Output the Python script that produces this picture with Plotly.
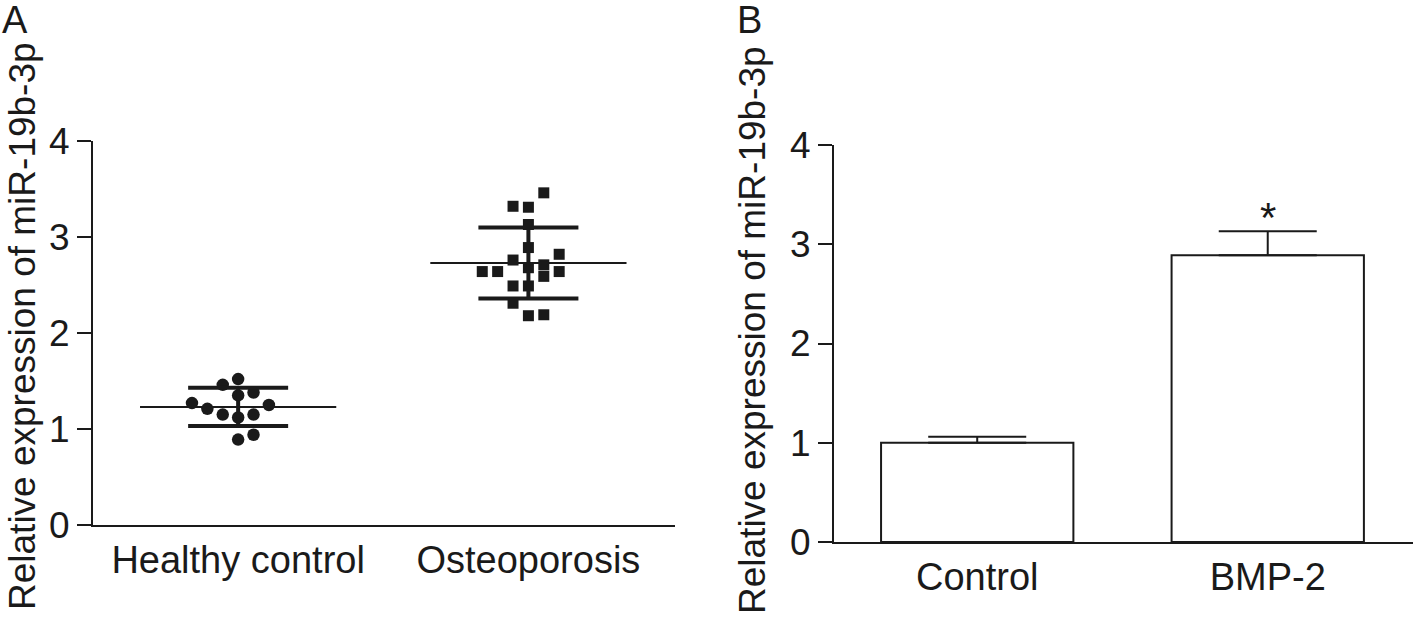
import plotly.graph_objects as go

# ---------------- Data ----------------
# Panel A: scatter dot plot
groups_a = ["Healthy control", "Osteoporosis"]
healthy_vals = [1.46, 1.52, 1.35, 1.38, 1.27, 1.21, 1.15, 1.12, 1.15, 1.25, 0.89, 0.94]
healthy_slot = [-1, 0, 0, 1, -3, -2, -1, 0, 1, 2, 0, 1]
osteo_vals = [3.46, 3.32, 3.31, 3.13, 2.89, 2.82, 2.76, 2.71, 2.68, 2.64, 2.64, 2.59,
              2.64, 2.49, 2.49, 2.31, 2.18, 2.19]
osteo_slot = [1, -1, 0, 0, 0, 2, -1, 1, 0, -3, -2, 1, 2, -1, 0, -1, 0, 1]
means_a = [1.23, 2.73]
sd_a = [0.20, 0.37]

# Panel B: bar chart
groups_b = ["Control", "BMP-2"]
bar_vals = [1.00, 2.89]
bar_err = [0.06, 0.24]
sig_marks = ["", "*"]

y_ticks = [0, 1, 2, 3, 4]
y_title = "Relative expression of miR-19b-3p"

# ---------------- Style ----------------
FONT = "Liberation Sans, Arial, sans-serif"
INK = "#1a1a1a"
W, H = 1418, 641
slot_w = 0.053
mean_half = 0.338

fig = go.Figure()

# Panel A points
fig.add_trace(go.Scatter(
    x=[0 + s * slot_w for s in healthy_slot], y=healthy_vals, mode="markers",
    marker=dict(symbol="circle", size=12.5, color=INK),
    xaxis="x", yaxis="y", showlegend=False, cliponaxis=False))
fig.add_trace(go.Scatter(
    x=[1 + s * slot_w for s in osteo_slot], y=osteo_vals, mode="markers",
    marker=dict(symbol="square", size=11, color=INK),
    xaxis="x", yaxis="y", showlegend=False, cliponaxis=False))

# mean lines
for i, m in enumerate(means_a):
    fig.add_trace(go.Scatter(
        x=[i - mean_half, i + mean_half], y=[m, m], mode="lines",
        line=dict(color=INK, width=2), xaxis="x", yaxis="y",
        showlegend=False, hoverinfo="skip"))

# SD bars
fig.add_trace(go.Scatter(
    x=[0, 1], y=means_a, mode="markers",
    marker=dict(size=1, color="rgba(0,0,0,0)"),
    error_y=dict(type="data", array=sd_a, visible=True, color=INK,
                 thickness=4, width=50),
    xaxis="x", yaxis="y", showlegend=False, hoverinfo="skip"))

# Panel B bars
fig.add_trace(go.Bar(
    x=groups_b, y=bar_vals, width=0.662,
    marker=dict(color="white", line=dict(color=INK, width=2)),
    error_y=dict(type="data", symmetric=False, array=bar_err,
                 arrayminus=[0, 0], visible=True, color=INK,
                 thickness=2, width=49),
    xaxis="x2", yaxis="y2", showlegend=False))

axis_common = dict(showgrid=False, zeroline=False, showline=True,
                   linecolor=INK, linewidth=2, automargin=False,
                   tickfont=dict(family=FONT, size=37, color=INK))

ya = dict(axis_common, range=[0, 4], tickvals=y_ticks, ticks="outside",
          ticklen=14, tickwidth=2, tickcolor=INK)

xa_font = dict(family=FONT, size=38, color=INK)

fig.update_layout(
    template="none",
    width=W, height=H, margin=dict(l=0, r=0, t=0, b=0, pad=0),
    paper_bgcolor="white", plot_bgcolor="white",
    xaxis=dict(axis_common, domain=[93 / W, 675 / W], range=[-0.5, 1.505],
               tickvals=[0, 1], ticktext=groups_a, ticks="", anchor="y",
               tickfont=xa_font),
    yaxis=dict(ya, domain=[1 - 525 / H, 1 - 141 / H], anchor="x"),
    xaxis2=dict(axis_common, domain=[834 / W, 1413 / W], range=[-0.493, 1.5],
                ticks="", anchor="y2", type="category",
                categoryorder="array", categoryarray=groups_b,
                tickfont=xa_font),
    yaxis2=dict(ya, domain=[1 - 542 / H, 1 - 145 / H], anchor="x2"),
)

annots = []
annots.append(dict(text="A", x=0 / W, y=1.005, xref="paper", yref="paper",
                   xanchor="left", yanchor="top", showarrow=False,
                   font=dict(family=FONT, size=38, color=INK)))
annots.append(dict(text="B", x=735 / W, y=1.005, xref="paper", yref="paper",
                   xanchor="left", yanchor="top", showarrow=False,
                   font=dict(family=FONT, size=38, color=INK)))
annots.append(dict(text=y_title, x=22 / W, y=1 - 326 / H, xref="paper", yref="paper",
                   xanchor="center", yanchor="middle", textangle=-90, showarrow=False,
                   font=dict(family=FONT, size=37, color=INK)))
annots.append(dict(text=y_title, x=752 / W, y=1 - 330 / H, xref="paper", yref="paper",
                   xanchor="center", yanchor="middle", textangle=-90, showarrow=False,
                   font=dict(family=FONT, size=37, color=INK)))
for g, v, e, s in zip(groups_b, bar_vals, bar_err, sig_marks):
    if s:
        annots.append(dict(text=s, x=g, y=v + e, xref="x2", yref="y2",
                           xanchor="center", yanchor="bottom", showarrow=False,
                           yshift=-12,
                           font=dict(family=FONT, size=42, color=INK)))
fig.update_layout(annotations=annots)

fig.write_html("out.html", config={"displayModeBar": False},
               post_script="document.body.style.margin='0';document.body.style.padding='0';")
